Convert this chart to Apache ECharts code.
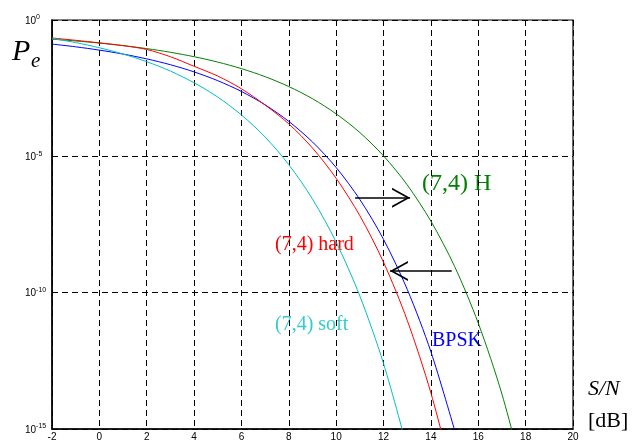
<!DOCTYPE html>
<html>
<head>
<meta charset="utf-8">
<script src="https://cdn.jsdelivr.net/npm/echarts@6/dist/echarts.min.js"></script>
<style>html,body{margin:0;padding:0;background:#fff}#c{width:643px;height:442px}</style>
</head>
<body>
<div id="c"></div>
<script>
// S/N in dB
const snr = [-2,-1,0,1,2,3,4,5,6,7,8,9,10,11,12,13,14,15,16,17,18];
// Error probabilities
const bpsk    = [0.131,0.104,0.0786,0.0563,0.0375,0.0229,0.0125,0.00595,0.00239,7.73e-4,1.91e-4,3.36e-5,3.87e-6,2.61e-7,9.0e-9,1.33e-10,6.8e-13,9.1e-16];
const hard74  = [0.219,0.18,0.145,0.115,0.083,0.045,0.020,0.0088,3.0e-3,7.6e-4,1.55e-4,2.01e-5,1.56e-6,6.64e-8,1.30e-9,9.7e-12,2.1e-14,1.0e-17];
const ham74H  = [0.198,0.1704,0.1425,0.1152,0.0892,0.0655,0.0451,0.02865,0.01646,8.35e-3,3.62e-3,1.294e-3,3.61e-4,7.44e-5,1.04e-5,8.98e-7,4.17e-8,9.2e-10,7.6e-12,1.9e-14,1.0e-17];
const soft74  = [0.212,0.1485,0.0961,0.0566,0.0296,0.01338,0.0050,1.49e-3,3.3e-4,5.1e-5,4.95e-6,2.7e-7,7.1e-9,7.5e-11,2.5e-13,2.0e-16];
// Arrows (data coordinates: [S/N, Pe])
const arrowRight = [[10.8, 3.0e-7], [13.12, 3.0e-7]];
const arrowLeft  = [[14.88, 6.2e-10], [12.27, 6.2e-10]];

function pair(xs, ys) { return ys.map((y, i) => [xs[i], y]); }

const serif = '"Liberation Serif", "Times New Roman", serif';
const sans = '"Liberation Sans", Arial, sans-serif';
const dash = [6, 4];

const chart = echarts.init(document.getElementById('c'), null, {renderer: 'canvas'});

function lineSeries(name, ys, color) {
  return {
    name: name, type: 'line', data: pair(snr, ys), showSymbol: false, symbol: 'none',
    smooth: 0.3, clip: true,
    lineStyle: {color: color, width: 1}, itemStyle: {color: color}, z: 3, silent: true
  };
}

const chevronRight = 'path://M0,0 L18,10 L0,20 L0,18 L14.6,10 L0,2 Z';
const chevronLeft = 'path://M18,0 L0,10 L18,20 L18,18 L3.4,10 L18,2 Z';

chart.setOption({
  animation: false,
  backgroundColor: '#fff',
  grid: {left: 52, right: 70, top: 20, bottom: 12, show: true, borderColor: '#000', borderWidth: 1.2, backgroundColor: 'transparent'},
  xAxis: {
    type: 'value', min: -2, max: 20, interval: 2,
    axisLine: {show: true, onZero: false, lineStyle: {color: '#000', width: 1.5}},
    axisTick: {show: false},
    axisLabel: {color: '#000', fontSize: 10, fontFamily: sans, margin: 3},
    splitLine: {show: true, lineStyle: {color: '#000', type: dash, width: 1}}
  },
  yAxis: {
    type: 'log', logBase: 10, min: 1e-15, max: 1, interval: 5,
    axisLine: {show: true, onZero: false, lineStyle: {color: '#000', width: 1.5}},
    axisTick: {show: false},
    minorTick: {show: false},
    axisLabel: {
      align: 'left', margin: 27, color: '#000', fontFamily: sans,
      formatter: function (v) { return '{b|10}{s|' + Math.round(Math.log10(v)) + '}'; },
      rich: {
        b: {fontSize: 10, fontFamily: sans, color: '#000', verticalAlign: 'bottom'},
        s: {fontSize: 7, fontFamily: sans, color: '#000', verticalAlign: 'bottom', padding: [0, 0, 5, 0]}
      }
    },
    splitLine: {show: true, lineStyle: {color: '#000', type: dash, width: 1}}
  },
  series: [
    lineSeries('(7,4) H', ham74H, '#008000'),
    lineSeries('BPSK', bpsk, '#0000ff'),
    lineSeries('(7,4) hard', hard74, '#ff0000'),
    lineSeries('(7,4) soft', soft74, '#00bfbf'),
    {
      name: 'arrows', type: 'line', data: [], silent: true, z: 4,
      markLine: {
        silent: true, animation: false, symbol: ['none', 'none'],
        lineStyle: {color: '#000', width: 1.6, type: 'solid'},
        label: {show: false},
        data: [
          [{coord: arrowRight[0]}, {coord: arrowRight[1]}],
          [{coord: arrowLeft[0]}, {coord: arrowLeft[1]}]
        ]
      },
      markPoint: {
        silent: true, animation: false, label: {show: false},
        itemStyle: {color: '#000'},
        data: [
          {coord: arrowRight[1], symbol: chevronRight, symbolSize: [18, 20], symbolOffset: [-9, 0]},
          {coord: arrowLeft[1], symbol: chevronLeft, symbolSize: [18, 20], symbolOffset: [9, 0]}
        ]
      }
    }
  ],
  graphic: [
    {type: 'text', x: 12, y: 52, style: {text: 'P', font: 'italic 30px ' + serif, fill: '#000', verticalAlign: 'middle'}},
    {type: 'text', x: 31, y: 61, style: {text: 'e', font: 'italic 21px ' + serif, fill: '#000', verticalAlign: 'middle'}},
    {type: 'text', x: 588, y: 389, style: {text: 'S/N', font: 'italic 22px ' + serif, fill: '#000', verticalAlign: 'middle'}},
    {type: 'text', x: 588, y: 421, style: {text: '[dB]', font: '22px ' + serif, fill: '#000', verticalAlign: 'middle'}},
    {type: 'text', x: 422, y: 184, style: {text: '(7,4) H', font: '24px ' + serif, fill: '#008000', verticalAlign: 'middle'}},
    {type: 'text', x: 275, y: 245, style: {text: '(7,4) hard', font: '20px ' + serif, fill: '#ff0000', verticalAlign: 'middle'}},
    {type: 'text', x: 275, y: 325, style: {text: '(7,4) soft', font: '20px ' + serif, fill: '#33cccc', verticalAlign: 'middle'}},
    {type: 'text', x: 432, y: 341, style: {text: 'BPSK', font: '20px ' + serif, fill: '#0000ff', verticalAlign: 'middle'}}
  ]
});
</script>
</body>
</html>
